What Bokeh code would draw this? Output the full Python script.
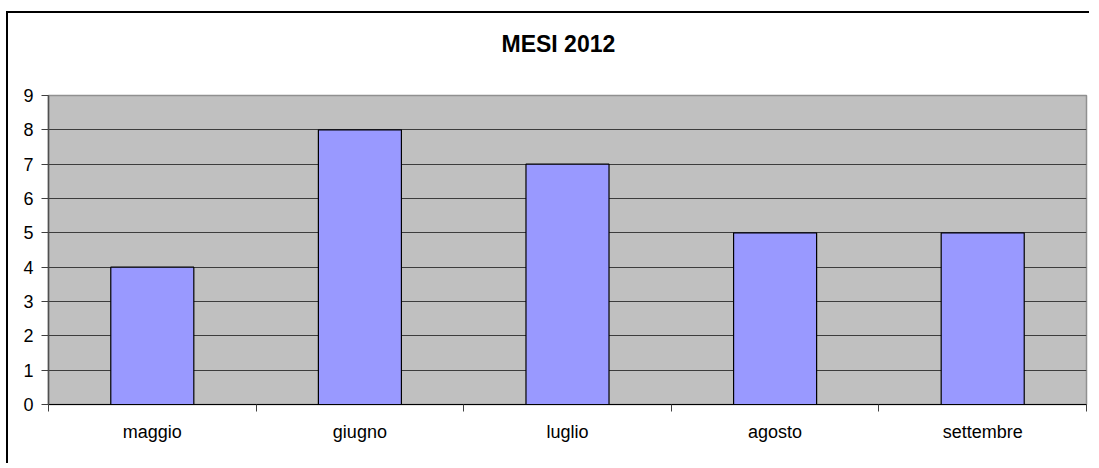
import numpy as np
from bokeh.plotting import figure
from bokeh.models import FixedTicker, Range1d, ColumnDataSource
from bokeh.embed import file_html
from bokeh.resources import INLINE

months = ["maggio", "giugno", "luglio", "agosto", "settembre"]
counts = [4, 8, 7, 5, 5]
y_ticks = list(range(0, 10))
title_text = "MESI 2012"

x_pos = [i + 0.5 for i in range(len(months))]
src = ColumnDataSource(dict(x=x_pos, top=counts, month=months))

FONT = "Liberation Sans"

p = figure(width=1083, height=452, output_backend="svg", toolbar_location=None,
           x_range=Range1d(0, len(months)), y_range=Range1d(0, 9),
           min_border_left=40, min_border_right=5, min_border_top=82, min_border_bottom=61,
           background_fill_color="#c0c0c0", border_fill_color="white",
           title=title_text + "\n ")

p.styles = {"border-top": "2px solid black", "border-left": "2px solid black",
            "margin-top": "11px", "margin-left": "6px"}

p.title.align = "left"
p.title.offset = 453
p.title.vertical_align = "top"
p.title.text_font = FONT
p.title.text_font_size = "23px"
p.title.text_font_style = "bold"
p.title.text_color = "black"
p.title.standoff = 22

p.vbar(x="x", top="top", width=0.4, bottom=0, source=src,
       fill_color="#9999ff", line_color="black", line_width=1.2)

p.outline_line_color = "#909090"
p.outline_line_width = 1.5

# y axis
p.yaxis.ticker = FixedTicker(ticks=y_ticks)
p.yaxis.axis_line_color = "#505050"
p.yaxis.axis_line_width = 1.5
p.yaxis.major_tick_line_color = "#404040"
p.yaxis.major_tick_out = 7
p.yaxis.major_tick_in = 0
p.yaxis.minor_tick_line_color = None
p.yaxis.major_label_text_font = FONT
p.yaxis.major_label_text_font_size = "18px"
p.yaxis.major_label_text_color = "black"
p.yaxis.major_label_standoff = 8

# x axis: labels at centres, ticks at category boundaries
p.xaxis.ticker = FixedTicker(ticks=x_pos, minor_ticks=list(range(0, len(months) + 1)))
p.xaxis.major_label_overrides = {x: m for x, m in zip(x_pos, months)}
p.xaxis.major_tick_line_color = None
p.xaxis.minor_tick_line_color = "#404040"
p.xaxis.minor_tick_out = 7
p.xaxis.minor_tick_in = 0
p.xaxis.axis_line_color = "black"
p.xaxis.axis_line_width = 1.2
p.xaxis.major_label_text_font = FONT
p.xaxis.major_label_text_font_size = "18px"
p.xaxis.major_label_text_color = "black"
p.xaxis.major_label_standoff = 10

p.xgrid.grid_line_color = None
p.ygrid.ticker = FixedTicker(ticks=y_ticks)
p.ygrid.grid_line_color = "#3c3c3c"
p.ygrid.grid_line_width = 1

open("out.html", "w").write(file_html(p, INLINE))
